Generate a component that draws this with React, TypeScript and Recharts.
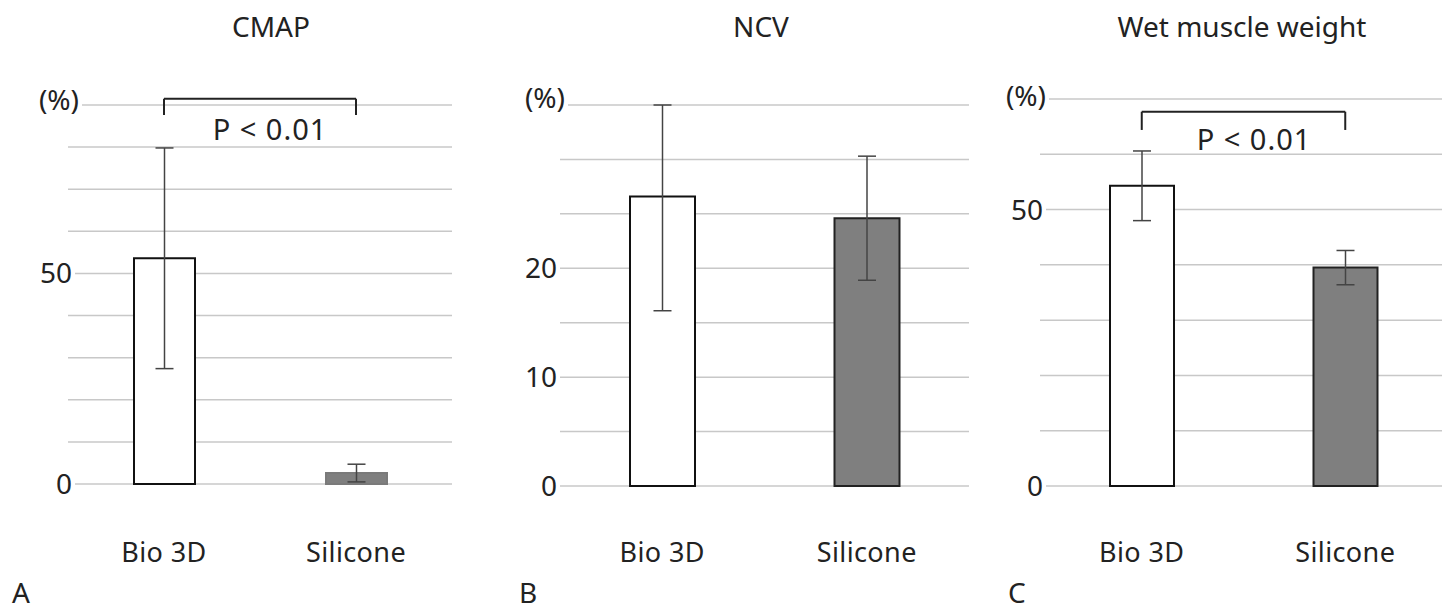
import React from 'react';
import { BarChart, Bar, XAxis, YAxis, CartesianGrid, Cell, ErrorBar, ReferenceLine } from 'recharts';

const categories = ['Bio 3D', 'Silicone'];

const cmapMeans = [53.6, 2.6];
const cmapErrLow = [26.2, 2.1];
const cmapErrHigh = [26.2, 2.1];
const ncvMeans = [26.6, 24.6];
const ncvErrLow = [10.5, 5.7];
const ncvErrHigh = [8.4, 5.7];
const wetMeans = [54.3, 39.5];
const wetErrLow = [6.3, 3.1];
const wetErrHigh = [6.3, 3.1];

const cmapTicks = [0, 10, 20, 30, 40, 50, 60, 70, 80, 90];
const cmapTickLabels = [0, 50];
const ncvTicks = [0, 5, 10, 15, 20, 25, 30, 35];
const ncvTickLabels = [0, 10, 20];
const wetTicks = [0, 10, 20, 30, 40, 50, 60, 70];
const wetTickLabels = [0, 50];

const cmapBracket = [91.5, 87.6];
const wetBracket = [67.7, 64.4];

const titles = ['CMAP', 'NCV', 'Wet muscle weight'];
const panelLetters = ['A', 'B', 'C'];
const pText = 'P < 0.01';
const unitText = '(%)';

const FONT = '"Noto Sans", "DejaVu Sans", sans-serif';
const TEXT = '#222';
const GRID = '#c8c8c8';
const SVG_H = 613;
const Y_AXIS_W = 40;

type PanelProps = {
  left: number;
  width: number;
  margin: { top: number; right: number; bottom: number; left: number };
  ticks: number[];
  tickLabels: number[];
  means: number[];
  errLow: number[];
  errHigh: number[];
  barSize: number;
  siliconeStroke: string;
  bracket?: number[];
  numRight: number;
  pctRight: number;
  pctDy: number;
};

function Panel(p: PanelProps) {
  const data = categories.map((name, i) => ({
    name,
    value: p.means[i],
    err: [p.errLow[i], p.errHigh[i]],
  }));
  const max = p.ticks[p.ticks.length - 1];

  const YTick = (props: any) => {
    const v = props.payload && props.payload.value;
    const y = props.y;
    if (v === max) {
      return (
        <g>
          <rect x={p.pctRight - 50} y={y - 16} width={53} height={26} fill="#fff" />
          <text x={p.pctRight} y={y + p.pctDy} textAnchor="end" fontSize={28} fontFamily={FONT} fill={TEXT}>
            {unitText}
          </text>
        </g>
      );
    }
    if (p.tickLabels.indexOf(v) >= 0) {
      return (
        <g>
          <rect x={p.numRight - 50} y={y - 13} width={53} height={26} fill="#fff" />
          <text x={p.numRight} y={y + 10} textAnchor="end" fontSize={28} fontFamily={FONT} fill={TEXT}>
            {String(v)}
          </text>
        </g>
      );
    }
    return <g />;
  };

  const XTick = (props: any) => (
    <text x={props.x} y={562} textAnchor="middle" fontSize={27} fontFamily={FONT} fill={TEXT} letterSpacing={0.4}>
      {props.payload.value}
    </text>
  );

  const b = p.bracket;

  return (
    <div style={{ position: 'absolute', left: p.left, top: 0, width: p.width, height: SVG_H }}>
      <BarChart width={p.width} height={SVG_H} data={data} margin={p.margin}>
        <CartesianGrid vertical={false} stroke={GRID} strokeWidth={1.5} />
        <XAxis dataKey="name" axisLine={false} tickLine={false} height={30} tick={XTick} interval={0} />
        <YAxis
          type="number"
          domain={[0, max]}
          ticks={p.ticks}
          interval={0}
          width={Y_AXIS_W}
          axisLine={false}
          tickLine={false}
          tick={YTick}
        />
        <Bar dataKey="value" barSize={p.barSize} isAnimationActive={false}>
          {data.map((d, i) => (
            <Cell
              key={d.name}
              fill={i === 0 ? '#ffffff' : '#7f7f7f'}
              stroke={i === 0 ? '#111' : p.siliconeStroke}
              strokeWidth={2}
            />
          ))}
          <ErrorBar dataKey="err" width={9} stroke="#444" strokeWidth={1.5} direction="y" />
        </Bar>
        {b && (
          <ReferenceLine
            segment={[{ x: categories[0], y: b[1] }, { x: categories[0], y: b[0] }]}
            stroke="#222"
            strokeWidth={2}
            ifOverflow="visible"
          />
        )}
        {b && (
          <ReferenceLine
            segment={[{ x: categories[0], y: b[0] }, { x: categories[1], y: b[0] }]}
            stroke="#222"
            strokeWidth={2}
            ifOverflow="visible"
          />
        )}
        {b && (
          <ReferenceLine
            segment={[{ x: categories[1], y: b[0] }, { x: categories[1], y: b[1] }]}
            stroke="#222"
            strokeWidth={2}
            ifOverflow="visible"
          />
        )}
      </BarChart>
    </div>
  );
}

export default function App() {
  return (
    <div style={{ position: 'absolute', left: 0, top: 0, width: 1442, height: SVG_H, overflow: 'hidden', background: '#fff' }}>
      <Panel
        left={0}
        width={480}
        margin={{ top: 105, right: 28, bottom: 99, left: 68 - Y_AXIS_W }}
        ticks={cmapTicks}
        tickLabels={cmapTickLabels}
        means={cmapMeans}
        errLow={cmapErrLow}
        errHigh={cmapErrHigh}
        barSize={61}
        siliconeStroke="#7a7a7a"
        bracket={cmapBracket}
        numRight={72}
        pctRight={79}
        pctDy={5}
      />
      <Panel
        left={480}
        width={490}
        margin={{ top: 105, right: 1, bottom: 97, left: 80 - Y_AXIS_W }}
        ticks={ncvTicks}
        tickLabels={ncvTickLabels}
        means={ncvMeans}
        errLow={ncvErrLow}
        errHigh={ncvErrHigh}
        barSize={65}
        siliconeStroke="#222"
        numRight={77}
        pctRight={85}
        pctDy={3}
      />
      <Panel
        left={970}
        width={480}
        margin={{ top: 99, right: 3, bottom: 97, left: 70 - Y_AXIS_W }}
        ticks={wetTicks}
        tickLabels={wetTickLabels}
        means={wetMeans}
        errLow={wetErrLow}
        errHigh={wetErrHigh}
        barSize={64}
        siliconeStroke="#222"
        bracket={wetBracket}
        numRight={73}
        pctRight={76}
        pctDy={7}
      />
      <svg
        width={1442}
        height={SVG_H}
        style={{ position: 'absolute', left: 0, top: 0, pointerEvents: 'none' }}
      >
        <text x={271} y={37} textAnchor="middle" fontSize={28} fontFamily={FONT} fill={TEXT}>{titles[0]}</text>
        <text x={761} y={37} textAnchor="middle" fontSize={28} fontFamily={FONT} fill={TEXT}>{titles[1]}</text>
        <text x={1242} y={37} textAnchor="middle" fontSize={28} fontFamily={FONT} fill={TEXT}>{titles[2]}</text>
        <text x={270} y={140} textAnchor="middle" fontSize={29} fontFamily={FONT} fill={TEXT} letterSpacing={1}>{pText}</text>
        <text x={1254} y={150} textAnchor="middle" fontSize={29} fontFamily={FONT} fill={TEXT} letterSpacing={1}>{pText}</text>
        <text x={12} y={603} fontSize={28} fontFamily={FONT} fill={TEXT}>{panelLetters[0]}</text>
        <text x={519} y={603} fontSize={28} fontFamily={FONT} fill={TEXT}>{panelLetters[1]}</text>
        <text x={1008} y={603} fontSize={28} fontFamily={FONT} fill={TEXT}>{panelLetters[2]}</text>
      </svg>
    </div>
  );
}
